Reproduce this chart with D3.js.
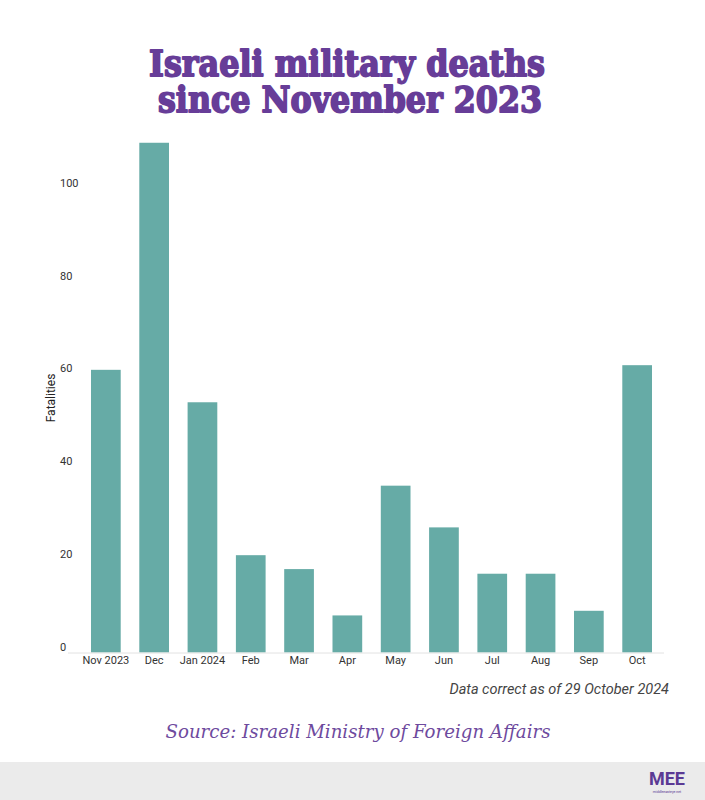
<!DOCTYPE html>
<html>
<head>
<meta charset="utf-8">
<script src="https://cdn.jsdelivr.net/npm/d3@7"></script>
<style>
  body { margin: 0; background: #fff; }
  svg { display: block; }
</style>
</head>
<body>
<div id="chart"></div>
<script>
// data
var months = ["Nov 2023", "Dec", "Jan 2024", "Feb", "Mar", "Apr", "May", "Jun", "Jul", "Aug", "Sep", "Oct"];
var deaths = [61, 110, 54, 21, 18, 8, 36, 27, 17, 17, 9, 62];
var yTicks = [0, 20, 40, 60, 80, 100];

var svgWidth = 705;
var svgHeight = 800;

var purple = "#673d98";
var barColor = "#66aba6";

var svg = d3.select("#chart")
    .append("svg")
    .attr("width", svgWidth)
    .attr("height", svgHeight);

// title - heavy slab look faked with a stroke
var title = svg.append("g")
    .attr("fill", purple)
    .attr("stroke", purple)
    .attr("stroke-width", 1.8)
    .attr("stroke-linejoin", "round")
    .attr("font-family", "DejaVu Serif")
    .attr("font-weight", "bold")
    .attr("font-size", 35)
    .attr("text-anchor", "middle");

title.append("text")
    .attr("x", 347).attr("y", 76)
    .attr("textLength", 396).attr("lengthAdjust", "spacingAndGlyphs")
    .text("Israeli military deaths");

title.append("text")
    .attr("x", 350).attr("y", 112)
    .attr("textLength", 384).attr("lengthAdjust", "spacingAndGlyphs")
    .text("since November 2023");

// scales
var xScale = d3.scaleBand()
    .domain(months)
    .range([81.7, 661.3])
    .paddingInner(0.385)
    .paddingOuter(0.1925);

var yScale = d3.scaleLinear()
    .domain([0, 100])
    .range([652.5, 189.1]);

var chartGroup = svg.append("g");

chartGroup.selectAll("rect")
    .data(deaths)
    .enter()
    .append("rect")
    .attr("x", (d, i) => xScale(months[i]))
    .attr("y", d => yScale(d))
    .attr("width", xScale.bandwidth())
    .attr("height", d => yScale(0) - yScale(d))
    .attr("fill", barColor);

// baseline
chartGroup.append("line")
    .attr("x1", 68).attr("x2", 664)
    .attr("y1", yScale(0) + 0.5).attr("y2", yScale(0) + 0.5)
    .attr("stroke", "#e2e2e2")
    .attr("stroke-width", 1);

// y axis labels (sit a little above their value)
var leftAxis = d3.axisLeft(yScale)
    .tickValues(yTicks)
    .tickSize(0)
    .tickPadding(0);

var yAxisG = chartGroup.append("g")
    .attr("transform", "translate(60, -6)")
    .call(leftAxis);
yAxisG.select(".domain").remove();
yAxisG.selectAll("text")
    .attr("text-anchor", "start")
    .attr("font-family", "Roboto")
    .attr("font-size", 11)
    .attr("fill", "#333");

// x axis labels
var bottomAxis = d3.axisBottom(xScale)
    .tickSize(0)
    .tickPadding(4);

var xAxisG = chartGroup.append("g")
    .attr("transform", `translate(0, ${yScale(0)})`)
    .call(bottomAxis);
xAxisG.select(".domain").remove();
xAxisG.selectAll("text")
    .attr("font-family", "Roboto")
    .attr("font-size", 11)
    .attr("fill", "#333");

// y axis title
chartGroup.append("text")
    .attr("transform", "translate(51, 398) rotate(-90)")
    .attr("text-anchor", "middle")
    .attr("dy", "0.35em")
    .attr("font-family", "Roboto")
    .attr("font-size", 12)
    .attr("fill", "#222")
    .text("Fatalities");

// notes
svg.append("text")
    .attr("x", 669).attr("y", 694)
    .attr("text-anchor", "end")
    .attr("font-family", "Roboto")
    .attr("font-style", "italic")
    .attr("font-size", 14.5)
    .attr("fill", "#444")
    .text("Data correct as of 29 October 2024");

svg.append("text")
    .attr("x", 358).attr("y", 738)
    .attr("text-anchor", "middle")
    .attr("font-family", "DejaVu Serif")
    .attr("font-style", "italic")
    .attr("font-size", 19)
    .attr("textLength", 385).attr("lengthAdjust", "spacingAndGlyphs")
    .attr("fill", "#6e4a9e")
    .text("Source: Israeli Ministry of Foreign Affairs");

// footer band + logo
svg.append("rect")
    .attr("x", 0).attr("y", 762)
    .attr("width", svgWidth).attr("height", 38)
    .attr("fill", "#ebebeb");

svg.append("text")
    .attr("x", 667).attr("y", 785)
    .attr("text-anchor", "middle")
    .attr("font-family", "Roboto")
    .attr("font-weight", "bold")
    .attr("font-size", 18)
    .attr("textLength", 36).attr("lengthAdjust", "spacingAndGlyphs")
    .attr("fill", "#5b3a94")
    .text("MEE");

svg.append("text")
    .attr("x", 667).attr("y", 793)
    .attr("text-anchor", "middle")
    .attr("font-family", "Roboto")
    .attr("font-size", 3.5)
    .attr("fill", "#5b3a94")
    .text("middleeasteye.net");
</script>
</body>
</html>
